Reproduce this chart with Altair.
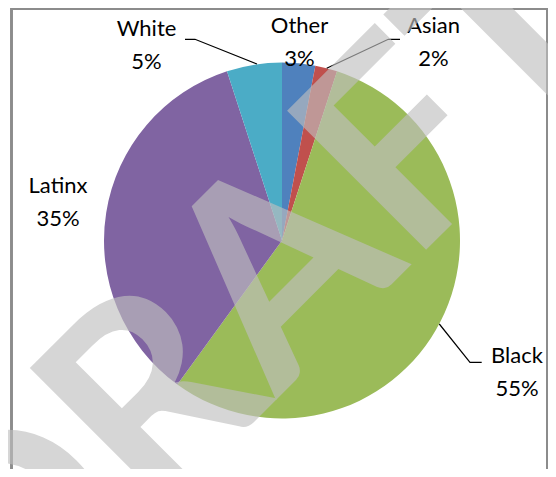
import altair as alt
import pandas as pd

# ---- data ----
categories = ["Other", "Asian", "Black", "Latinx", "White"]
values = [3, 2, 55, 35, 5]
colors = ["#4F81BD", "#C0504D", "#9BBB59", "#8064A2", "#4BACC6"]

# ---- layout (view pixel coordinates; page = view + 8) ----
label_x = [291.5, 425.5, 509, 50, 138.5]
label_y = [25, 24.5, 355, 185, 27.5]
leaders = {
    "Asian": [(318.7, 60.3), (380.3, 31.3), (392, 31.3)],
    "Black": [(431.3, 316), (462, 354.3), (473.7, 354.3)],
    "White": [(177, 31.3), (187, 31.3), (249, 56)],
}
CX, CY, R = 274, 232.5, 178

df = pd.DataFrame({
    "cat": categories,
    "value": values,
    "idx": list(range(len(categories))),
    "label": [f"{c}\n{v}%" for c, v in zip(categories, values)],
    "lx": label_x,
    "ly": label_y,
})

lrows = []
for name, pts in leaders.items():
    for i, (px, py) in enumerate(pts):
        lrows.append({"name": name, "o": i, "px": px, "py": py})
ldf = pd.DataFrame(lrows)

pie = alt.Chart(df).mark_arc(outerRadius=R).encode(
    theta=alt.Theta("value:Q", stack=True),
    color=alt.Color("cat:N", scale=alt.Scale(domain=categories, range=colors), legend=None),
    order=alt.Order("idx:Q"),
    x=alt.value(CX),
    y=alt.value(CY),
)

labels = alt.Chart(df).mark_text(
    font="Lato", fontSize=22, lineBreak="\n", lineHeight=33,
    align="center", baseline="alphabetic", color="black",
).encode(
    x=alt.X("lx:Q", scale=None),
    y=alt.Y("ly:Q", scale=None),
    text="label:N",
)

lines = alt.Chart(ldf).mark_line(color="black", strokeWidth=1.2).encode(
    x=alt.X("px:Q", scale=None),
    y=alt.Y("py:Q", scale=None),
    detail="name:N",
    order="o:Q",
)

# frame: bottom edge falls just outside the visible page, as in the reference
border = alt.Chart(df).mark_rect(fill=None, stroke="#8c8c8c", strokeWidth=2).encode(
    x=alt.value(3.5), x2=alt.value(539), y=alt.value(1), y2=alt.value(470),
)

wm = pd.DataFrame({"t": ["DRAFT"]})
watermark = alt.Chart(wm).mark_text(
    font="Lato", fontWeight="bold", fontSize=272, angle=315,
    align="center", baseline="middle",
).encode(
    x=alt.value(255), y=alt.value(289),
    text="t:N",
    color=alt.value("#bfbfbf"),
    opacity=alt.value(0.64),
)

chart = alt.layer(border, pie, lines, labels, watermark).properties(
    width=540, height=461, autosize="none", padding=0,
).configure_view(stroke=None)

chart.save("out.html", embed_options={"renderer": "svg", "actions": False})
